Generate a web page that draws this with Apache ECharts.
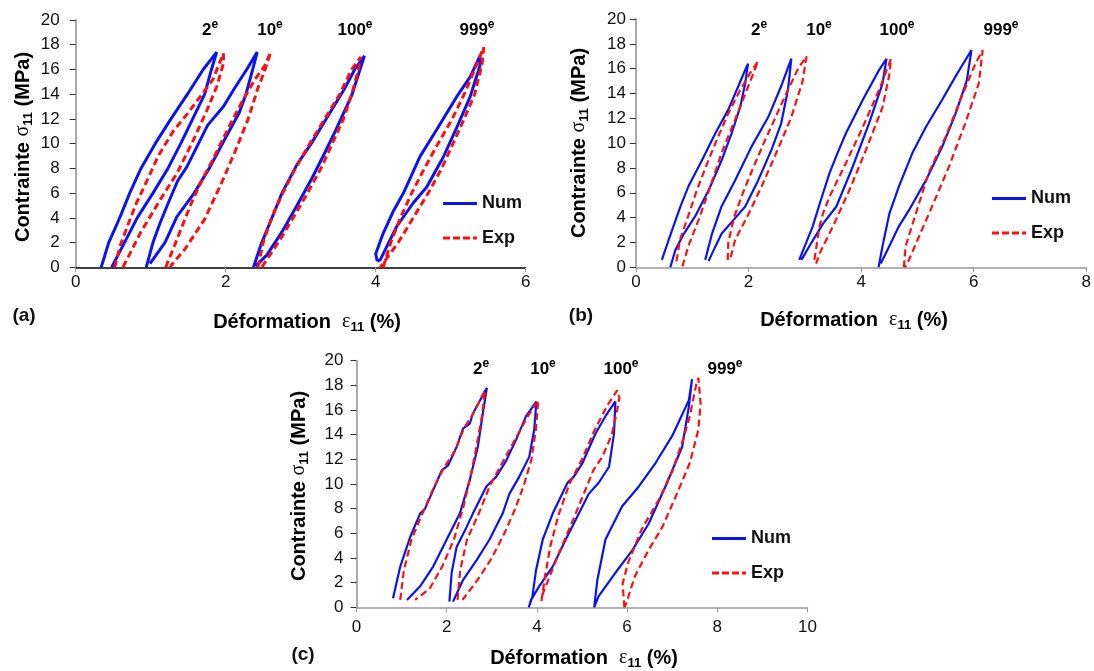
<!DOCTYPE html>
<html><head><meta charset="utf-8">
<script src="https://cdn.jsdelivr.net/npm/echarts@6/dist/echarts.min.js"></script>
<style>html,body{margin:0;padding:0;background:#fff}#c{width:1094px;height:671px}</style>
</head><body><div id="c"></div>
<script>
// ---- cycle labels ----
const CYCLES = ['2', '10', '100', '999'];
const X_MAX = [6, 8, 10];
const Y_MAX = 20;

// ---- panel (a) ----
const A2_NUM = [[0.34,0],[0.44,2],[0.55,3.5],[0.60,4.2],[0.72,6],[0.87,8],[1.06,10],[1.27,12],[1.49,14],[1.70,16],[1.88,17.4],[1.81,16],[1.72,14],[1.56,12],[1.40,10],[1.23,8],[1.03,6],[0.82,4],[0.65,2],[0.48,0]];
const A2_EXP = [[0.52,0],[0.59,1.7],[0.70,3.5],[0.81,5.2],[0.95,7],[1.10,9],[1.30,11],[1.50,12.5],[1.66,13.8],[1.83,15.2],[1.97,17.3],[1.97,16.5],[1.88,14.6],[1.75,12.7],[1.57,10.3],[1.35,7.6],[1.12,5.4],[0.86,2.75],[0.63,0]];
const A10_NUM = [[0.94,0],[1.03,2],[1.12,3.5],[1.22,5],[1.36,7],[1.48,8.1],[1.62,9.8],[1.76,11.5],[1.97,13],[2.12,14.5],[2.28,16],[2.42,17.4],[2.36,16],[2.27,14],[2.18,12.5],[2.00,10.5],[1.79,8.1],[1.58,6],[1.35,4.1],[1.19,2],[0.99,0.3]];
const A10_EXP = [[1.20,0],[1.32,1.8],[1.45,3.8],[1.55,5.3],[1.68,7],[1.81,8.5],[2.03,11.2],[2.21,13.3],[2.39,15.2],[2.52,16.3],[2.60,17.4],[2.52,15.9],[2.43,14.5],[2.30,12.0],[2.12,9.3],[1.95,6.9],[1.72,3.9],[1.46,1.5],[1.28,0.2],[1.26,0]];
const A100_NUM = [[2.37,0],[2.48,2],[2.59,3.6],[2.75,6],[2.95,8.3],[3.14,10],[3.37,12.3],[3.59,14.5],[3.72,16],[3.85,17.1],[3.78,15.8],[3.68,13.9],[3.46,11],[3.30,9],[3.15,7.2],[2.95,5],[2.75,2.86],[2.55,1],[2.40,0.1]];
const A100_EXP = [[2.43,0],[2.50,2],[2.61,4],[2.76,6],[2.93,8],[3.12,10],[3.32,12],[3.52,14],[3.68,16],[3.80,17.0],[3.77,16],[3.68,14],[3.57,12],[3.42,10],[3.27,8],[3.09,6],[2.90,4],[2.70,2],[2.48,0]];
const A999_NUM = [[4.02,0.5],[4.00,1.1],[4.10,2.75],[4.24,4.6],[4.37,6.0],[4.59,8.95],[4.81,11.1],[5.08,13.8],[5.26,15.4],[5.39,17.1],[5.39,16.3],[5.26,13.8],[5.08,11.3],[4.90,8.9],[4.68,6.5],[4.50,5.2],[4.28,3.3],[4.06,0.6],[4.02,0.5]];
const A999_EXP = [[4.10,0],[4.20,2],[4.33,4],[4.48,6],[4.65,8],[4.83,10],[5.02,12],[5.18,14],[5.32,16],[5.44,17.8],[5.42,16.5],[5.32,14],[5.18,12],[5.03,10],[4.88,8],[4.70,6],[4.50,4],[4.30,2],[4.06,0]];

// ---- panel (b) ----
const B2_NUM = [[0.46,0.6],[0.58,2.2],[0.79,4.9],[0.93,6.5],[1.17,8.6],[1.41,10.8],[1.64,12.7],[1.82,14.6],[1.94,15.9],[1.99,16.4],[1.94,14.8],[1.85,12.9],[1.70,10.8],[1.52,8.6],[1.29,6.2],[1.05,4.1],[0.85,2.7],[0.70,1.4],[0.61,0]];
const B2_EXP = [[0.72,0.5],[0.78,2.2],[0.94,4.3],[1.08,6.2],[1.25,8.2],[1.43,10.2],[1.62,12.2],[1.82,14],[2.02,15.6],[2.17,16.6],[2.11,15.9],[1.97,14.3],[1.76,11.9],[1.52,9.2],[1.32,6.5],[1.11,3.8],[0.93,1.7],[0.82,0]];
const B10_NUM = [[1.23,0.6],[1.35,2.7],[1.52,4.9],[1.76,7.0],[2.05,9.7],[2.35,12.1],[2.58,14.6],[2.76,16.8],[2.70,14.3],[2.58,11.6],[2.41,9.5],[2.17,7.0],[1.94,4.9],[1.73,3.8],[1.52,2.7],[1.35,1.1],[1.29,0.5]];
const B10_EXP = [[1.63,0.6],[1.64,2],[1.74,4],[1.90,6],[2.08,8],[2.27,10],[2.47,12],[2.67,14],[2.88,16],[3.03,17],[2.96,15],[2.76,12.1],[2.52,9.5],[2.23,6.5],[2.0,4.3],[1.76,2.2],[1.67,0.6]];
const B100_NUM = [[2.90,0.6],[3.14,3.3],[3.29,5.5],[3.44,7.6],[3.58,9.2],[3.73,10.8],[4.03,13.5],[4.32,15.9],[4.45,16.8],[4.38,14.8],[4.14,11.6],[3.85,8.1],[3.56,4.9],[3.32,3.5],[3.08,1.7],[2.94,0.6]];
const B100_EXP = [[3.17,0.6],[3.26,3.3],[3.32,4.3],[3.44,5.7],[3.73,8.4],[4.03,11.3],[4.32,14.3],[4.53,16.8],[4.50,15.5],[4.38,12.9],[4.09,9.5],[3.79,6.2],[3.50,3.3],[3.26,1.1],[3.20,0.3]];
const B999_NUM = [[4.31,0],[4.38,1.7],[4.50,4.3],[4.67,6.5],[4.91,9.2],[5.15,11.3],[5.44,13.5],[5.68,15.4],[5.96,17.5],[5.88,15.1],[5.68,12.4],[5.44,9.7],[5.15,7.0],[4.85,4.6],[4.67,3.3],[4.50,1.7],[4.35,0.3]];
const B999_EXP = [[4.76,0],[4.79,1.7],[4.97,4.3],[5.20,7.6],[5.50,10.5],[5.79,13.8],[6.03,16.4],[6.16,17.5],[6.09,14.8],[5.85,11.6],[5.56,8.1],[5.26,4.9],[5.03,2.5],[4.85,0.6],[4.78,0]];

// ---- panel (c) ----
const C2_NUM = [[0.81,0.73],[0.97,3.3],[1.19,5.7],[1.41,7.6],[1.52,8.0],[1.70,9.5],[1.89,11.1],[2.03,11.5],[2.22,13.0],[2.36,14.5],[2.51,14.9],[2.58,15.7],[2.89,17.8],[2.80,15.7],[2.69,13.0],[2.51,10.3],[2.29,7.6],[2.0,5.5],[1.70,3.3],[1.41,1.7],[1.12,0.6]];
const C2_EXP = [[0.97,0.6],[1.05,3],[1.22,5.5],[1.45,7.5],[1.70,9.6],[1.92,11.2],[2.20,12.8],[2.38,14.5],[2.60,15.8],[2.85,17.6],[2.78,15.5],[2.66,13],[2.52,10.5],[2.36,8],[2.16,5.5],[1.90,3.3],[1.62,1.5],[1.30,0.6]];
const C10_NUM = [[2.06,0.46],[2.11,2.8],[2.22,4.9],[2.44,6.5],[2.58,7.6],[2.88,9.8],[3.10,10.6],[3.32,11.9],[3.54,13.6],[3.76,15.5],[3.99,16.7],[3.94,14.4],[3.83,12.2],[3.61,10.6],[3.39,9.2],[3.24,7.6],[2.95,5.5],[2.66,3.8],[2.36,2.2],[2.14,0.46]];
const C10_EXP = [[2.24,0.6],[2.30,3],[2.45,5.5],[2.70,7.5],[2.95,9.8],[3.20,11.5],[3.50,13.5],[3.80,15.5],[4.03,16.8],[3.98,14.5],[3.88,12],[3.72,10],[3.52,8],[3.28,6],[3.0,4],[2.70,2.3],[2.35,0.6]];
const C100_NUM = [[3.82,0],[3.90,0.86],[3.98,3.0],[4.13,5.5],[4.35,7.6],[4.68,10.1],[4.82,10.6],[5.01,11.7],[5.30,14.1],[5.52,15.5],[5.74,16.7],[5.71,14.1],[5.60,11.4],[5.37,10.1],[5.15,9.2],[4.93,7.6],[4.64,5.5],[4.35,3.3],[4.05,1.7],[3.87,0.6],[3.82,0]];
const C100_EXP = [[4.10,0.5],[4.18,2.5],[4.30,5],[4.48,7.5],[4.72,10],[5.0,12],[5.27,14.3],[5.55,16.3],[5.78,17.6],[5.83,17.0],[5.78,16],[5.66,14],[5.45,12.2],[5.25,11.1],[4.86,7.6],[4.49,4.4],[4.13,1.1],[4.10,0.5]];
const C999_NUM = [[5.27,0],[5.34,2.2],[5.52,5.5],[5.89,8.2],[6.26,9.8],[6.63,11.7],[7.0,13.9],[7.37,16.8],[7.44,18.5],[7.37,16.3],[7.22,13.0],[6.85,9.8],[6.48,6.8],[6.11,4.6],[5.74,2.8],[5.37,0.9],[5.27,0]];
const C999_EXP = [[5.94,0],[5.90,1.9],[6.02,3.6],[6.32,6.3],[6.70,8.7],[7.01,11.1],[7.24,13.6],[7.39,15.5],[7.54,18.2],[7.58,18.6],[7.63,16.5],[7.58,14.4],[7.39,11.7],[7.08,9.0],[6.78,6.5],[6.47,4.6],[6.17,2.5],[5.98,0.3],[5.94,0]];

const PANEL_NUM = [[A2_NUM,A10_NUM,A100_NUM,A999_NUM],[B2_NUM,B10_NUM,B100_NUM,B999_NUM],[C2_NUM,C10_NUM,C100_NUM,C999_NUM]];
const PANEL_EXP = [[A2_EXP,A10_EXP,A100_EXP,A999_EXP],[B2_EXP,B10_EXP,B100_EXP,B999_EXP],[C2_EXP,C10_EXP,C100_EXP,C999_EXP]];

// ---- layout ----
const GRIDS = [
  {left: 75.7, top: 20, width: 450, height: 247.3},
  {left: 636, top: 19, width: 451, height: 248.3},
  {left: 356.5, top: 360.7, width: 451, height: 246.6}
];
const LW = [3, 2.2, 2.2];
const Y_MARGIN = [16, 10, 13];
const X_MARGIN = [7, 7, 12];
const FONT = 'Liberation Sans, Arial, sans-serif';
const BLUE = '#0a14f0';
const RED = '#ff1010';

const series = [];
for (let p = 0; p < 3; p++) {
  PANEL_NUM[p].forEach(d => series.push({
    name: 'Num', type: 'line', xAxisIndex: p, yAxisIndex: p, data: d,
    symbol: 'none', smooth: false, color: BLUE, itemStyle: {color: BLUE},
    lineStyle: {color: BLUE, width: LW[p], type: 'solid'}, z: 2
  }));
  PANEL_EXP[p].forEach(d => series.push({
    name: 'Exp', type: 'line', xAxisIndex: p, yAxisIndex: p, data: d,
    symbol: 'none', smooth: false, color: RED, itemStyle: {color: RED},
    lineStyle: {color: RED, width: LW[p], type: [7, 4]}, z: 3
  }));
}

const xAxes = GRIDS.map((g, i) => ({
  type: 'value', gridIndex: i, min: 0, max: X_MAX[i], interval: 2,
  axisLine: {show: true, onZero: false, lineStyle: {color: i === 0 ? '#000' : '#999', width: 1.5}},
  axisTick: {show: true, length: 5, lineStyle: {color: '#999'}},
  axisLabel: {fontSize: 17, color: '#111', fontFamily: FONT, margin: X_MARGIN[i]},
  splitLine: {show: false}
}));
const yAxes = GRIDS.map((g, i) => ({
  type: 'value', gridIndex: i, min: 0, max: Y_MAX, interval: 2,
  axisLine: {show: true, lineStyle: {color: '#aaa', width: 2}},
  axisTick: {show: true, length: 6, lineStyle: {color: '#333'}},
  axisLabel: {fontSize: 17, color: '#111', fontFamily: FONT, margin: Y_MARGIN[i]},
  splitLine: {show: false}
}));

const ICON_SOLID = 'path://M0,0h34v3h-34z';
const ICON_DASH = 'path://M0,0h7v3h-7z M10,0h7v3h-7z M20,0h7v3h-7z M30,0h4v3h-4z';
const LEG_POS = [[443, 194.5], [992, 189.5], [712, 529.5]];
const legends = LEG_POS.map(pos => ({
  orient: 'vertical', left: pos[0], top: pos[1], padding: 0,
  itemWidth: 34, itemHeight: 3, itemGap: 16.5,
  data: [{name: 'Num', icon: ICON_SOLID}, {name: 'Exp', icon: ICON_DASH}],
  textStyle: {fontSize: 18, fontWeight: 'bold', color: '#111', fontFamily: FONT},
  selectedMode: false
}));

const richAxis = {
  b: {fontSize: 20, fontWeight: 'bold', fontFamily: FONT, color: '#111', lineHeight: 24, verticalAlign: 'middle'},
  g: {fontSize: 20, fontFamily: 'Liberation Serif, serif', color: '#111', lineHeight: 24, verticalAlign: 'middle'},
  s: {fontSize: 13, fontWeight: 'bold', fontFamily: FONT, color: '#111', lineHeight: 13, verticalAlign: 'bottom'}
};
const richCyc = {
  n: {fontSize: 17, fontWeight: 'bold', fontFamily: FONT, color: '#111', lineHeight: 20, verticalAlign: 'bottom'},
  s: {fontSize: 12, fontWeight: 'bold', fontFamily: FONT, color: '#111', lineHeight: 12, verticalAlign: 'top'}
};
function txt(x, y, text, rich, rot, align) {
  return {type: 'text', x: x, y: y, rotation: rot || 0, silent: true,
    style: {text: text, rich: rich, textAlign: align || 'center', textVerticalAlign: 'middle',
      align: align || 'center', verticalAlign: 'middle'}};
}
const XTITLE = '{b|Déformation  }{g|ε}{s|11}{b| (%)}';
const YTITLE = '{b|Contrainte }{g|σ}{s|11}{b| (MPa)}';
const CYC_POS = [
  [[210, 29], [270, 29], [355, 29], [477, 29]],
  [[759, 29], [819, 29], [897, 29], [1001, 29]],
  [[481, 368], [543, 368], [621, 368], [725, 368]]
];
const graphics = [];
const XT = [[307, 322], [854, 320], [584, 658]];
const YT = [[23, 147], [579, 143], [299, 486]];
const LETTERS = [['(a)', 24, 316], ['(b)', 581, 316], ['(c)', 303, 655]];
for (let p = 0; p < 3; p++) {
  graphics.push(txt(XT[p][0], XT[p][1], XTITLE, richAxis));
  graphics.push(txt(YT[p][0], YT[p][1], YTITLE, richAxis, Math.PI / 2));
  CYCLES.forEach((c, k) => graphics.push(txt(CYC_POS[p][k][0], CYC_POS[p][k][1], '{n|' + c + '}{s|e}', richCyc)));
  graphics.push({type: 'text', x: LETTERS[p][1], y: LETTERS[p][2], silent: true,
    style: {text: LETTERS[p][0], fontSize: 19, fontWeight: 'bold', fontFamily: FONT, fill: '#111',
      textAlign: 'center', textVerticalAlign: 'middle', align: 'center', verticalAlign: 'middle'}});
}

const chart = echarts.init(document.getElementById('c'), null, {renderer: 'canvas'});
chart.setOption({
  animation: false,
  backgroundColor: '#fff',
  grid: GRIDS,
  xAxis: xAxes,
  yAxis: yAxes,
  legend: legends,
  series: series,
  graphic: graphics
});
</script></body></html>
